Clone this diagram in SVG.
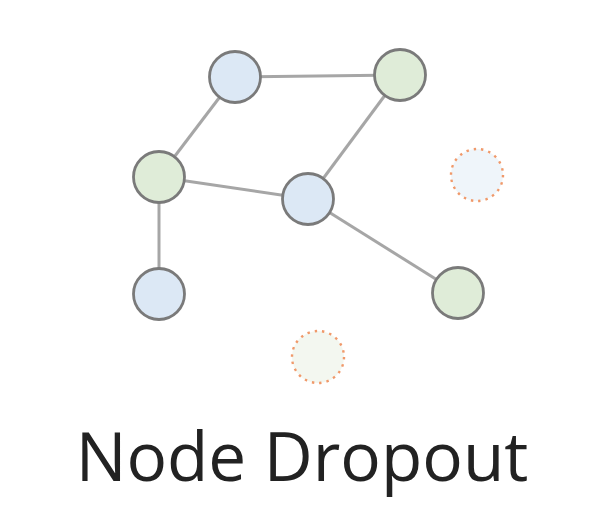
<svg xmlns="http://www.w3.org/2000/svg" width="605" height="527" viewBox="0 0 605 527">
<style>
.edge{stroke:#a6a6a6;stroke-width:3;fill:none}
.node{stroke:#7a7a7a;stroke-width:2.8}
.blue{fill:#dce8f5}
.green{fill:#dfecd8}
.drop{stroke:#f0996a;stroke-width:2.4;stroke-dasharray:2.4 5;stroke-linecap:butt}
.label{font-family:"Open Sans","Noto Sans",sans-serif;font-size:67.5px;fill:#222}
</style>
<rect width="605" height="527" fill="#fff"/>
<g id="edges">
<line class="edge" x1="235" y1="77" x2="400" y2="75"/>
<line class="edge" x1="235" y1="77" x2="159" y2="177"/>
<line class="edge" x1="400" y1="75" x2="308" y2="199"/>
<line class="edge" x1="159" y1="177" x2="308" y2="199"/>
<line class="edge" x1="159" y1="177" x2="159" y2="294"/>
<line class="edge" x1="308" y1="199" x2="458" y2="293"/>
</g>
<g id="n1"><circle class="node blue" cx="235" cy="77" r="25.5"/></g>
<g id="n2"><circle class="node green" cx="400" cy="75" r="25.5"/></g>
<g id="n3"><circle class="node green" cx="159" cy="177" r="25.5"/></g>
<g id="n4"><circle class="node blue" cx="308" cy="199" r="25.5"/></g>
<g id="n5"><circle class="node blue" cx="159" cy="294" r="25.5"/></g>
<g id="n6"><circle class="node green" cx="458" cy="293" r="25.5"/></g>
<g id="d1"><circle class="drop" cx="477" cy="175" r="26" fill="#eff5fa"/></g>
<g id="d2"><circle class="drop" cx="318" cy="357" r="26" fill="#f3f7f0"/></g>
<g id="title"><text class="label" x="302" y="481" text-anchor="middle">Node Dropout</text></g>
</svg>
